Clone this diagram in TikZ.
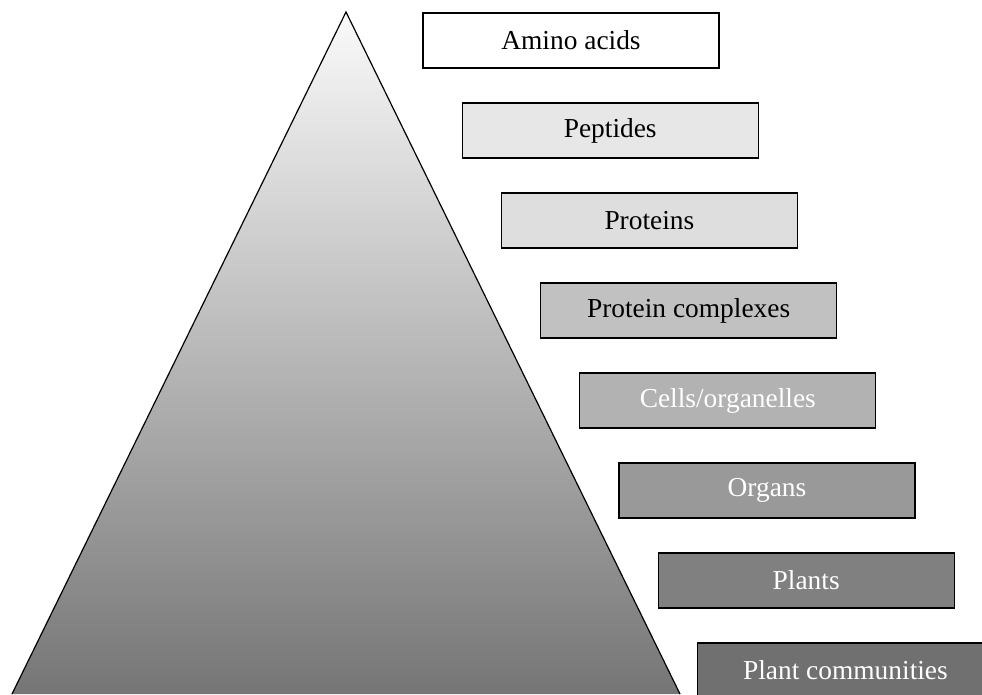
\documentclass[tikz,border=0pt]{standalone}
\usepackage{fontspec}
\setmainfont{Liberation Serif}
\definecolor{pyrtop}{gray}{0.98}
\definecolor{pyrbot}{gray}{0.46}
\definecolor{fillpep}{gray}{0.905}
\definecolor{fillprot}{gray}{0.87}
\definecolor{fillcplx}{gray}{0.755}
\definecolor{fillcell}{gray}{0.70}
\definecolor{fillorg}{gray}{0.60}
\definecolor{fillplant}{gray}{0.50}
\definecolor{fillcomm}{gray}{0.44}
\tikzset{
  level/.style={draw,line width=1.2pt,minimum width=296pt,minimum height=55pt,inner sep=0pt},
  darklevel/.style={level,text=white}
}
\begin{document}
\begin{tikzpicture}[x=1pt,y=-1pt,font=\fontsize{27.4}{32}\selectfont]
\useasboundingbox(0,0)rectangle(982,694);
\clip(0,0)rectangle(982,694);
\coordinate(apex)at(346,12);
\coordinate(baseR)at(680,694);
\coordinate(baseL)at(12,694);
\shade[top color=pyrtop,bottom color=pyrbot](apex)--(baseR)--(baseL)--cycle;
\draw[line width=1.2pt](baseL)--(apex)--(baseR);
\node[level,fill=white](amino)at(571,40.5){Amino acids};
\node[level,fill=fillpep](peptides)at(610.2,130.5){Peptides};
\node[level,fill=fillprot](proteins)at(649.4,220.5){Proteins};
\node[level,fill=fillcplx](complexes)at(688.6,310.5){Protein complexes};
\node[darklevel,fill=fillcell](cells)at(727.8,400.5){Cells/organelles};
\node[darklevel,fill=fillorg](organs)at(767,490.5){Organs};
\node[darklevel,fill=fillplant](plants)at(806.2,580.5){Plants};
\node[darklevel,fill=fillcomm](communities)at(845.4,670.5){Plant communities};
\end{tikzpicture}
\end{document}
